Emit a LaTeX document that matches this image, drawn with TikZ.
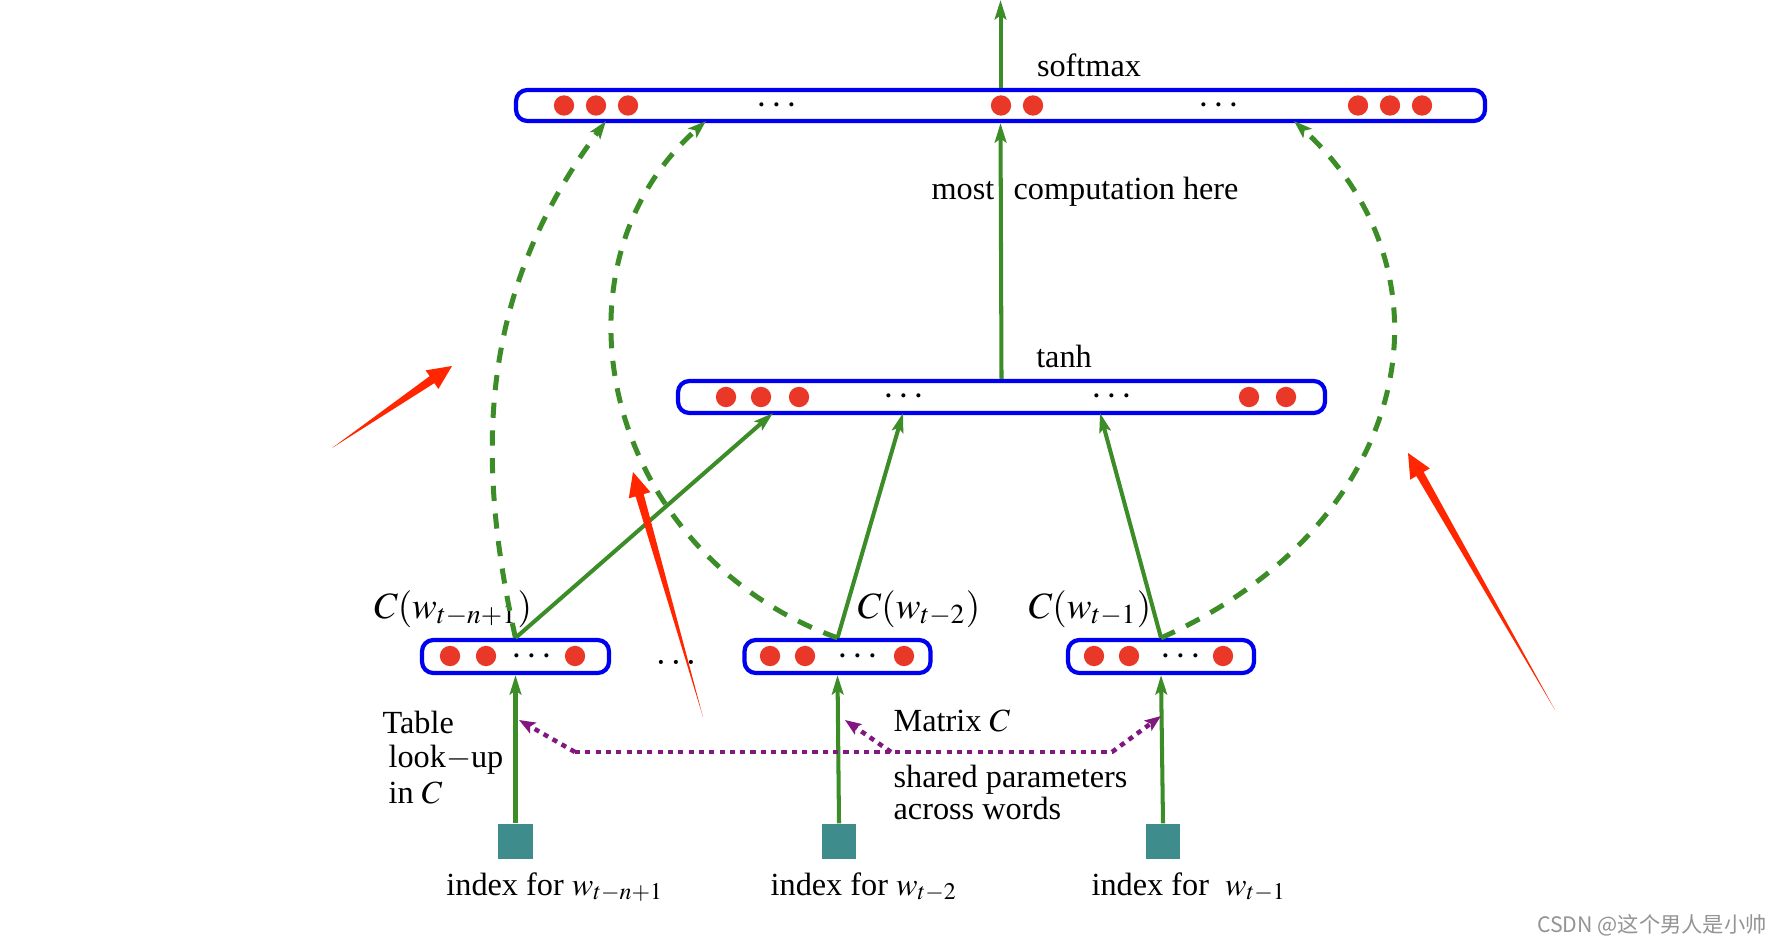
\documentclass[tikz,border=0pt]{standalone}
\usepackage{mathptmx}
\usepackage[no-math]{fontspec}
\setmainfont{Liberation Serif}
\newfontfamily\cjkfont{Noto Sans CJK SC}
\usetikzlibrary{arrows.meta,calc}
\definecolor{vblue}{RGB}{0,0,240}
\definecolor{dotred}{RGB}{234,56,40}
\definecolor{lgreen}{RGB}{60,140,40}
\definecolor{tealsq}{RGB}{62,140,140}
\definecolor{purp}{RGB}{128,24,128}
\definecolor{annred}{RGB}{255,38,0}
\def\PXU{0.31pt}
\newcommand\annarrow[2]{%
  \coordinate (AB) at ($(#2)!7.5pt!(#1)$);
  \fill[annred] (#1) -- ($(AB)!1.3pt!90:(#2)$) -- ($(AB)!3.5pt!90:(#2)$) -- (#2)
     -- ($(AB)!3.5pt!-90:(#2)$) -- ($(AB)!1.3pt!-90:(#2)$) -- cycle;}
\begin{document}
\begin{tikzpicture}[x=0.31pt,y=-0.31pt,
  vecbox/.style={draw=vblue,line width=1.3pt,rounded corners=3.5pt,inner sep=0pt},
  rdot/.style={circle,fill=dotred,inner sep=0pt,minimum size=6.3pt},
  idxsq/.style={fill=tealsq,inner sep=0pt,minimum size=10.8pt},
  garrow/.style={draw=lgreen,line width=1.25pt,-{Stealth[length=6pt,width=3.6pt,inset=1.2pt]}},
  gdash/.style={draw=lgreen,line width=1.55pt,dash pattern=on 4.7pt off 3.9pt,-{Stealth[length=5.6pt,width=3.8pt,inset=1.2pt]}},
  pline/.style={draw=purp,line width=1.4pt,dash pattern=on 1.6pt off 1.6pt},
  parrow/.style={pline,-{Stealth[length=5pt,width=3.8pt,inset=1pt]}},
  lbl/.style={inner sep=0pt,font=\fontsize{10}{12}\selectfont},
  mlbl/.style={inner sep=0pt,font=\fontsize{11.5}{13}\selectfont},
  dts/.style={inner sep=0pt,font=\large},
]
\useasboundingbox[fill=white] (0,0) rectangle (1772,946);

% ---- layer boxes
\node[vecbox,minimum width=969*\PXU,minimum height=31*\PXU] (sm) at (1000.5,105.5) {};
\node[vecbox,minimum width=647*\PXU,minimum height=32*\PXU] (th) at (1001.5,397) {};
\node[vecbox,minimum width=187*\PXU,minimum height=33*\PXU] (b1) at (515.5,656.5) {};
\node[vecbox,minimum width=186*\PXU,minimum height=33*\PXU] (b2) at (837.5,656.5) {};
\node[vecbox,minimum width=186*\PXU,minimum height=33*\PXU] (b3) at (1161,656.5) {};

% ---- red units
\foreach \x [count=\i] in {564,596,628,1001,1033,1358,1390,1422}
  \node[rdot] (sd\i) at (\x,105.5) {};
\foreach \x [count=\i] in {726,761,799,1249,1286}
  \node[rdot] (td\i) at (\x,397) {};
\foreach \x [count=\i] in {450,486,575}
  \node[rdot] (ad\i) at (\x,656) {};
\foreach \x [count=\i] in {770,805,904}
  \node[rdot] (bd\i) at (\x,656) {};
\foreach \x [count=\i] in {1094,1129,1223}
  \node[rdot] (cd\i) at (\x,656) {};

% ---- dots
\node[dts] (sdots1) at (777,106) {$\cdots$};
\node[dts] (sdots2) at (1219,106) {$\cdots$};
\node[dts] (tdots1) at (904,397) {$\cdots$};
\node[dts] (tdots2) at (1112,397) {$\cdots$};
\node[dts] (adots) at (532,657) {$\cdots$};
\node[dts] (bdots) at (858,657) {$\cdots$};
\node[dts] (cdots) at (1181,657) {$\cdots$};
\node[dts,anchor=base] (midots) at (676,664) {$\ldots$};

% ---- index squares
\node[idxsq] (s1) at (515.5,841.5) {};
\node[idxsq] (s2) at (839,841.5) {};
\node[idxsq] (s3) at (1163,841.5) {};

% ---- labels
\node[lbl,anchor=base] (lsoft) at (1089,77) {softmax};
\node[lbl,anchor=base] (ltanh) at (1064,368) {tanh};
\node[lbl,anchor=base east] (lmost) at (995,200) {most};
\node[lbl,anchor=base west] (lcomp) at (1013,200) {computation here};
\node[mlbl,anchor=base] (lc1) at (453,618) {$C(w_{t-n+1})$};
\node[mlbl,anchor=base] (lc2) at (919,618) {$C(w_{t-2})$};
\node[mlbl,anchor=base] (lc3) at (1090,618) {$C(w_{t-1})$};
\node[lbl,anchor=base] (li1) at (555,895) {index for $w_{t-n+1}$};
\node[lbl,anchor=base] (li2) at (864,895) {index for $w_{t-2}$};
\node[lbl,anchor=base] (li3) at (1189,895) {index for\enspace$w_{t-1}$};
\node[lbl,anchor=base west] (ltab) at (382,733) {Table};
\node[lbl,anchor=base west] (llook) at (388,767) {look$-$up};
\node[lbl,anchor=base west] (lin) at (388,803) {in $C$};
\node[lbl,anchor=base west] (lmat) at (893,731) {Matrix $C$};
\node[lbl,anchor=base west] (lsh1) at (893,787) {shared parameters};
\node[lbl,anchor=base west] (lsh2) at (893,819) {across words};
\node[inner sep=0pt,anchor=base,text=black!42,font=\cjkfont\fontsize{6.6}{8}\selectfont] (wm) at (1652,932) {CSDN @这个男人是小帅};

% ---- coordinates
\coordinate (top) at (1000.5,0);
\coordinate (t1) at (773,413);
\coordinate (t2) at (903,413);
\coordinate (t3) at (1100,413);
\coordinate (u1) at (606,121);
\coordinate (u2) at (706,121);
\coordinate (u3) at (1294,121);

% ---- green arrows
\draw[garrow] (sm.north) -- (top);
\draw[garrow] (th.north) -- (sm.south);
\draw[garrow] (b1.north) -- (t1);
\draw[garrow] (b2.north) -- (t2);
\draw[garrow] (b3.north) -- (t3);
\draw[garrow] (s1.north) -- (b1.south);
\draw[garrow] (s2.north) -- (b2.south);
\draw[garrow] (s3.north) -- (b3.south);

% ---- dashed skip connections
\draw[gdash] (b1.north) .. controls (471,439) and (486,283) .. (u1);
\draw[gdash] (b2.north) .. controls (603,553) and (541,268) .. (u2);
\draw[gdash] (b3.north) .. controls (1410,527) and (1464,277) .. (u3);

% ---- shared parameters (purple)
\coordinate (pL) at (575,752);
\coordinate (pM) at (891,752);
\coordinate (pR) at (1112,752);
\coordinate (pt1) at (519,720);
\coordinate (pt2) at (845,720);
\coordinate (pt3) at (1161,716);
\draw[pline] (pL) -- (pR);
\draw[parrow] (pL) -- (pt1);
\draw[parrow] (pM) -- (pt2);
\draw[parrow] (pR) -- (pt3);

% ---- red annotation arrows
\coordinate (ra1) at (332,448); \coordinate (rb1) at (452,366);
\coordinate (ra2) at (703,717); \coordinate (rb2) at (633,472);
\coordinate (ra3) at (1555,710); \coordinate (rb3) at (1408,453);
\annarrow{ra1}{rb1}
\annarrow{ra2}{rb2}
\annarrow{ra3}{rb3}
\end{tikzpicture}
\end{document}
